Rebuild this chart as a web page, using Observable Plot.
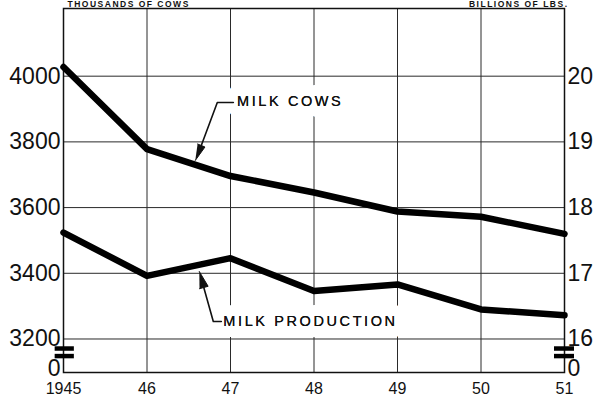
<!DOCTYPE html>
<html>
<head>
<meta charset="utf-8">
<script src="https://cdn.jsdelivr.net/npm/d3@7"></script>
<script src="https://cdn.jsdelivr.net/npm/@observablehq/plot@0.6"></script>
<style>
  html, body { margin: 0; padding: 0; background: #fff; }
  #chart svg { display: block; }
</style>
</head>
<body>
<div id="chart"></div>
<script>
// ---- data ----
const years = [1945, 1946, 1947, 1948, 1949, 1950, 1951];
const yearLabels = ["1945", "46", "47", "48", "49", "50", "51"];
const milkCows = [4028, 3778, 3696, 3646, 3588, 3572, 3520];          // thousands of cows (left)
const milkProduction = [17.62, 16.96, 17.23, 16.73, 16.83, 16.45, 16.36]; // billions of lbs (right)

const leftTicks = [3200, 3400, 3600, 3800, 4000];
const leftLabels = ["3200", "3400", "3600", "3800", "4000"];
const rightLabels = ["16", "17", "18", "19", "20"];
const zeroTick = 3110;          // position of the broken-axis "0" label
const yDomain = [3098, 4206];
const gridYears = [1946, 1947, 1948, 1949, 1950];

// right axis (billions) expressed on left scale: 16 -> 3200, 1 unit = 200
const toLeft = v => 3200 + (v - 16) * 200;

const cowsData = years.map((y, i) => ({year: y, v: milkCows[i]}));
const prodData = years.map((y, i) => ({year: y, v: toLeft(milkProduction[i])}));

// annotations (data space)
const cowsLeader = [[1947.034, 3920], [1946.842, 3920], [1946.650, 3789]];
const cowsHead = [[1946.578, 3743.4], [1946.694, 3784.4], [1946.606, 3793.6]];
const prodLeader = [[1946.890, 3253.3], [1946.794, 3253.3], [1946.680, 3356.8]];
const prodHead = [[1946.626, 3405.5], [1946.732, 3360.4], [1946.629, 3353.1]];
const labels = [
  {x: 1947.078, y: 3923, text: "MILK COWS"},
  {x: 1946.914, y: 3254.8, text: "MILK PRODUCTION"}
];
const breakYs = [3171, 3148];
const breakLeftX = [1944.90, 1945.13];
const breakRightX = [1950.88, 1951.12];

const allLeftTicks = [zeroTick, ...leftTicks];
const fmtLeft = d => d === zeroTick ? "0" : leftLabels[leftTicks.indexOf(d)];
const fmtRight = d => d === zeroTick ? "0" : rightLabels[leftTicks.indexOf(d)];

const font = "'Liberation Sans', Arial, sans-serif";

const chart = Plot.plot({
  width: 595,
  height: 397,
  marginTop: 8,
  marginBottom: 25,
  marginLeft: 63,
  marginRight: 31,
  style: {fontFamily: font, background: "#fff", color: "#111", overflow: "visible"},
  x: {domain: [1945, 1951]},
  y: {domain: yDomain},
  marks: [
    Plot.ruleX(gridYears, {stroke: "#2a2a2a", strokeWidth: 1}),
    Plot.ruleY(leftTicks, {stroke: "#2a2a2a", strokeWidth: 1}),
    Plot.text(labels, {x: "x", y: "y", text: "text", textAnchor: "start", lineAnchor: "middle",
      fontSize: 14.5, fill: "#111", stroke: "white", strokeWidth: 22}),
    Plot.text(labels, {x: "x", y: "y", text: "text", textAnchor: "start", lineAnchor: "middle",
      fontSize: 14.5, fill: "#111"}),
    Plot.line(cowsLeader, {x: d => d[0], y: d => d[1], stroke: "#111", strokeWidth: 1.6}),
    Plot.line(cowsHead, {x: d => d[0], y: d => d[1], fill: "#111", stroke: "#111", strokeWidth: 1}),
    Plot.line(prodLeader, {x: d => d[0], y: d => d[1], stroke: "#111", strokeWidth: 1.6}),
    Plot.line(prodHead, {x: d => d[0], y: d => d[1], fill: "#111", stroke: "#111", strokeWidth: 1}),
    Plot.frame({stroke: "#111", strokeWidth: 1.5}),
    Plot.line(cowsData, {x: "year", y: "v", stroke: "#000", strokeWidth: 6.5, strokeLinejoin: "round"}),
    Plot.line(prodData, {x: "year", y: "v", stroke: "#000", strokeWidth: 6.5, strokeLinejoin: "round"}),
    Plot.ruleY(breakYs, {x1: breakLeftX[0], x2: breakLeftX[1], stroke: "#000", strokeWidth: 4.5}),
    Plot.ruleY(breakYs, {x1: breakRightX[0], x2: breakRightX[1], stroke: "#000", strokeWidth: 4.5}),
    Plot.axisY({anchor: "left", ticks: allLeftTicks, tickFormat: fmtLeft, tickSize: 0, tickPadding: 3,
      fontSize: 23, label: null, fill: "#111"}),
    Plot.axisY({anchor: "right", ticks: allLeftTicks, tickFormat: fmtRight, tickSize: 0, tickPadding: 3,
      fontSize: 23, label: null, fill: "#111"}),
    Plot.axisX({ticks: years, tickFormat: d => yearLabels[years.indexOf(d)], tickSize: 0, tickPadding: 10,
      fontSize: 16, label: null, fill: "#111"}),
    Plot.text(["THOUSANDS OF COWS"], {frameAnchor: "top-left", textAnchor: "start", lineAnchor: "bottom",
      dx: 4, dy: -1.5, fontSize: 8.5, fontWeight: "bold", fill: "#111"}),
    Plot.text(["BILLIONS OF LBS."], {frameAnchor: "top-right", textAnchor: "end", lineAnchor: "bottom",
      dx: 4, dy: -1.5, fontSize: 8.5, fontWeight: "bold", fill: "#111"})
  ]
});

document.getElementById("chart").appendChild(chart);
const sel = d3.select(chart).selectAll("text");
sel.filter(function() { return this.textContent === "MILK COWS" || this.textContent === "MILK PRODUCTION"; })
  .attr("letter-spacing", "2.6px");
sel.filter(function() { return this.textContent === "THOUSANDS OF COWS" || this.textContent === "BILLIONS OF LBS."; })
  .attr("letter-spacing", "1.5px");
</script>
</body>
</html>
